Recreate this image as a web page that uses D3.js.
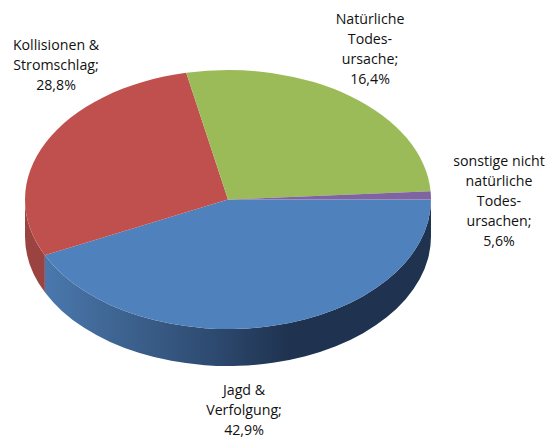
<!DOCTYPE html>
<html><head><meta charset="utf-8">
<script src="https://cdn.jsdelivr.net/npm/d3@7"></script>
<style>html,body{margin:0;padding:0;background:#fff}svg{display:block}</style>
</head><body><div id="c"></div>
<script>
const categories=["Jagd & Verfolgung","Kollisionen & Stromschlag","Natürliche Todesursache","sonstige nicht natürliche Todesursachen"];
const drawnShares=[42.9,28.8,27.3,1.0];
const colors=["#4f81bd","#c0504d","#9bbb59","#8064a2"];
const wallFill=["url(#wall)","#9b4340","#7f9a49","#6a5387"];
const labelLines=[["Jagd &","Verfolgung;","42,9%"],["Kollisionen &","Stromschlag;","28,8%"],["Natürliche","Todes-","ursache;","16,4%"],["sonstige nicht","natürliche","Todes-","ursachen;","5,6%"]];
const labelAnchors=[[244,390],[56,45],[370,19],[499,161]];

const W=549,H=439,cx=228,cy=199.5,rx=203,ry=129.5,depth=37;
const svg=d3.select("#c").append("svg").attr("width",W).attr("height",H);
const defs=svg.append("defs");
const g=defs.append("linearGradient").attr("id","wall").attr("gradientUnits","userSpaceOnUse")
  .attr("x1",cx-rx+20).attr("x2",cx+60).attr("y1",0).attr("y2",0);
[[0,"#4a78ad"],[0.3,"#3e6491"],[0.65,"#2f4d74"],[1,"#1f3350"]].forEach(s=>g.append("stop").attr("offset",s[0]).attr("stop-color",s[1]));

const pie=d3.pie().sort(null).startAngle(Math.PI/2).endAngle(Math.PI/2+2*Math.PI);
const arcs=pie(drawnShares);
const px=a=>cx+rx*Math.sin(a), py=a=>cy-ry*Math.cos(a);

function wall(a0,a1){
  const lo=Math.max(a0,Math.PI/2), hi=Math.min(a1,3*Math.PI/2);
  if(hi<=lo) return null;
  return `M${px(lo)},${py(lo)}A${rx},${ry} 0 0 1 ${px(hi)},${py(hi)}L${px(hi)},${py(hi)+depth}A${rx},${ry} 0 0 0 ${px(lo)},${py(lo)+depth}Z`;
}
svg.append("g").selectAll("path").data(arcs).join("path")
  .attr("d",d=>wall(d.startAngle,d.endAngle)).attr("fill",(d,i)=>wallFill[i]);

const arc=d3.arc().innerRadius(0).outerRadius(rx);
svg.append("g").attr("transform",`translate(${cx},${cy}) scale(1,${ry/rx})`)
  .selectAll("path").data(arcs).join("path")
  .attr("d",arc).attr("fill",(d,i)=>colors[i]);

const t=svg.append("g").attr("font-family","'Open Sans',sans-serif").attr("font-size",14.2).attr("fill","#111").attr("text-anchor","middle");
labelLines.forEach((ls,i)=>ls.forEach((s,j)=>t.append("text")
  .attr("x",labelAnchors[i][0]).attr("y",labelAnchors[i][1]+j*20).attr("dy","0.35em").text(s)));
</script></body></html>
